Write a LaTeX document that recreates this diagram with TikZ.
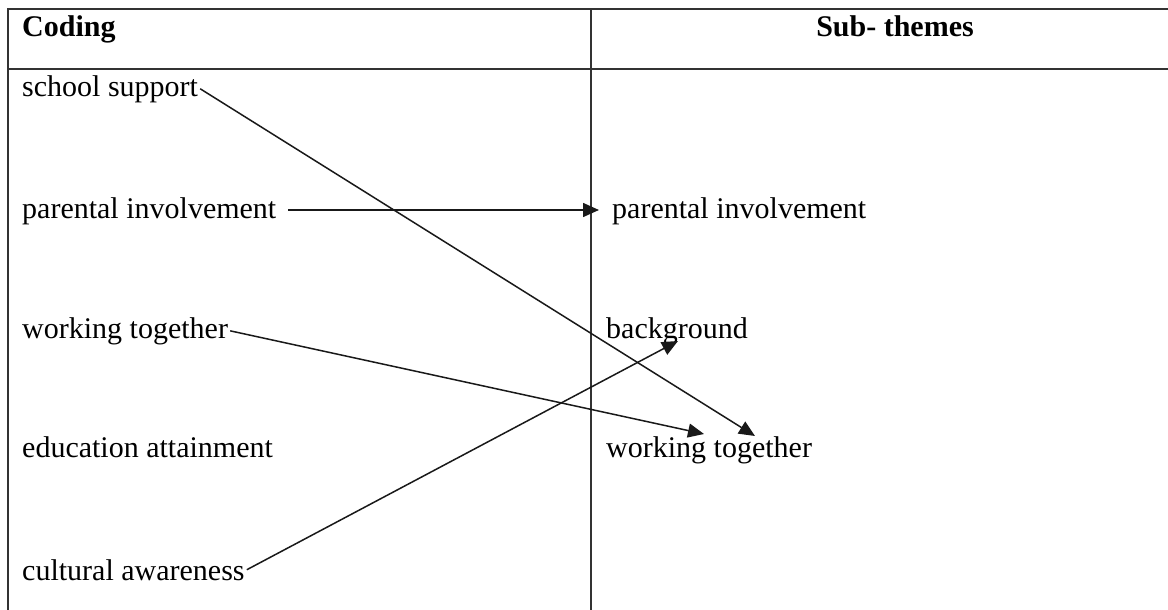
\documentclass[tikz,border=0pt]{standalone}
\usepackage{fontspec}
\setmainfont{Liberation Serif}
\usetikzlibrary{arrows.meta}
\begin{document}
\begin{tikzpicture}[x=1pt,y=-1pt,
  rule/.style={line width=2.4pt,draw=black!80},
  lbl/.style={anchor=base west,inner sep=2pt,font=\fontsize{30}{36}\selectfont},
  head/.style={anchor=base,inner sep=0pt,font=\fontsize{30}{36}\selectfont\bfseries},
  link/.style={line width=1.5pt,draw=black!90,-{Triangle[length=16pt,width=14pt]}}]
\useasboundingbox (0,0) rectangle (1168,610);
% table frame
\draw[rule] (8,610) -- (8,9) -- (1168,9);
\draw[rule] (8,69) -- (1168,69);
\draw[rule] (591,9) -- (591,610);
% column headings
\node[head,anchor=base west] (hc) at (22,37) {Coding};
\node[head] (hs) at (895,37) {Sub- themes};
% codes
\node[lbl] (c1) at (20,96) {school support};
\node[lbl] (c2) at (20,218) {parental involvement};
\node[lbl] (c3) at (20,338) {working together};
\node[lbl] (c4) at (20,457) {education attainment};
\node[lbl] (c5) at (20,580) {cultural awareness};
% sub-themes
\node[lbl] (s1) at (610,218) {parental involvement};
\node[lbl] (s2) at (604,338) {background};
\node[lbl] (s3) at (604,457) {working together};
% arrow tips
\coordinate (t1) at (755,436);
\coordinate (t2) at (599,210);
\coordinate (t3) at (704,434);
\coordinate (t4) at (678,341);
\coordinate (f2) at (288,210);
% connectors
\draw[link] (c1.east) -- (t1);
\draw[link] (f2) -- (t2);
\draw[link] (c3.east) -- (t3);
\draw[link] (c5.east) -- (t4);
\end{tikzpicture}
\end{document}
